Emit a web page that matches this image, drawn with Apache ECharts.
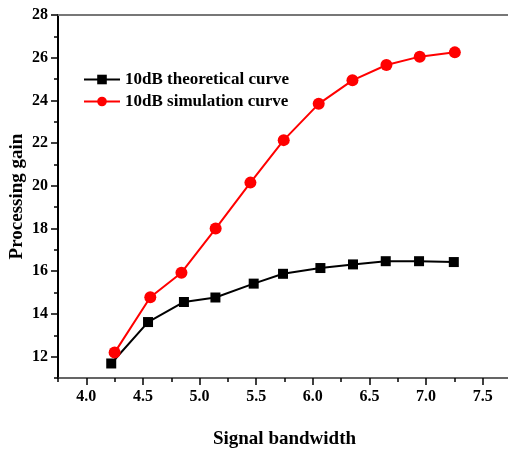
<!DOCTYPE html>
<html>
<head>
<meta charset="utf-8">
<script src="https://cdn.jsdelivr.net/npm/echarts@6/dist/echarts.min.js"></script>
<style>html,body{margin:0;padding:0;background:#fff}#c{width:508px;height:450px}</style>
</head>
<body>
<div id="c"></div>
<script>
var theoX = [4.22, 4.545, 4.862, 5.14, 5.478, 5.737, 6.067, 6.355, 6.644, 6.938, 7.245];
var theoY = [11.68, 13.62, 14.56, 14.77, 15.42, 15.88, 16.15, 16.32, 16.47, 16.47, 16.43];
var simX = [4.25, 4.565, 4.84, 5.142, 5.449, 5.743, 6.052, 6.35, 6.65, 6.944, 7.254];
var simY = [12.19, 14.78, 15.93, 18.0, 20.15, 22.14, 23.84, 24.94, 25.66, 26.05, 26.25];
var xTickLabels = [4.0, 4.5, 5.0, 5.5, 6.0, 6.5, 7.0, 7.5];
var yTickLabels = [12, 14, 16, 18, 20, 22, 24, 26, 28];
var seriesNames = ['10dB theoretical curve', '10dB simulation curve'];

function pairs(xs, ys) { return xs.map(function (x, i) { return [x, ys[i]]; }); }

var FONT = '"Liberation Serif", "Times New Roman", serif';
var chart = echarts.init(document.getElementById('c'), null, { renderer: 'canvas' });
chart.setOption({
  animation: false,
  backgroundColor: '#fff',
  grid: { left: 58, top: 15, width: 453, height: 363, show: false, containLabel: false, outerBoundsMode: 'none' },
  legend: {
    orient: 'vertical', left: 78, top: 66, itemGap: 5, itemWidth: 36, itemHeight: 12,
    data: seriesNames,
    textStyle: { fontFamily: FONT, fontWeight: 'bold', fontSize: 17, color: '#000' }
  },
  xAxis: [
    {
      type: 'value', min: 3.75, max: 7.75, interval: 0.25, position: 'bottom',
      name: 'Signal bandwidth', nameLocation: 'middle', nameGap: 52, nameMoveOverlap: false,
      nameTextStyle: { fontFamily: FONT, fontWeight: 'bold', fontSize: 19, color: '#000' },
      axisLine: { show: true, lineStyle: { color: '#333', width: 1.6 } },
      axisTick: { show: true, length: 7, customValues: xTickLabels, lineStyle: { color: '#000', width: 1.5 } },
      axisLabel: { customValues: xTickLabels, margin: 11, formatter: function (v) { return v.toFixed(1); },
        fontFamily: FONT, fontWeight: 'bold', fontSize: 16, color: '#000' },
      splitLine: { show: false }
    },
    {
      type: 'value', min: 3.75, max: 7.75, interval: 0.25, position: 'bottom',
      axisLine: { show: false },
      axisTick: { show: true, length: 4, lineStyle: { color: '#000', width: 1.5 } },
      axisLabel: { show: false },
      splitLine: { show: false }
    },
    {
      type: 'value', min: 3.75, max: 7.75, position: 'top',
      axisLine: { show: true, lineStyle: { color: '#777', width: 2 } },
      axisTick: { show: false },
      axisLabel: { show: false },
      splitLine: { show: false }
    }
  ],
  yAxis: [
    {
      type: 'value', min: 11, max: 28, interval: 1, position: 'left',
      name: 'Processing gain', nameLocation: 'middle', nameGap: 31, nameMoveOverlap: false,
      nameTextStyle: { fontFamily: FONT, fontWeight: 'bold', fontSize: 19, color: '#000' },
      axisLine: { show: true, lineStyle: { color: '#000', width: 2 } },
      axisTick: { show: true, length: 7, customValues: yTickLabels, lineStyle: { color: '#000', width: 1.5 } },
      axisLabel: { customValues: yTickLabels, margin: 10,
        fontFamily: FONT, fontWeight: 'bold', fontSize: 16, color: '#000' },
      splitLine: { show: false }
    },
    {
      type: 'value', min: 11, max: 28, interval: 1, position: 'left',
      axisLine: { show: false },
      axisTick: { show: true, length: 4, lineStyle: { color: '#000', width: 1.5 } },
      axisLabel: { show: false },
      splitLine: { show: false }
    }
  ],
  series: [
    {
      name: seriesNames[0], type: 'line', data: pairs(theoX, theoY),
      symbol: 'rect', symbolSize: 10, lineStyle: { color: '#000', width: 2 },
      itemStyle: { color: '#000' }
    },
    {
      name: seriesNames[1], type: 'line', data: pairs(simX, simY),
      symbol: 'circle', symbolSize: 12, lineStyle: { color: '#ff0000', width: 2 },
      itemStyle: { color: '#ff0000' }
    }
  ]
});
</script>
</body>
</html>
